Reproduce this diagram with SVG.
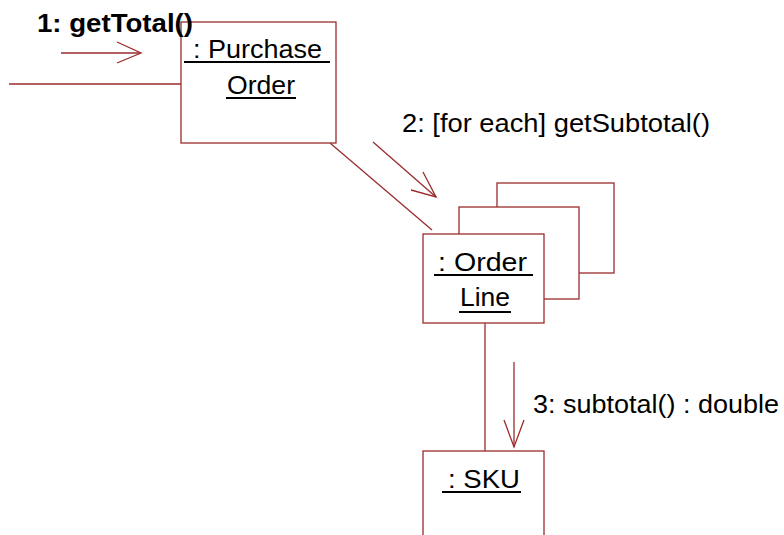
<svg xmlns="http://www.w3.org/2000/svg" width="784" height="535" viewBox="0 0 784 535">
<style>
.box{fill:#fff;stroke:#9b2b2b;stroke-width:1.3}
.ln{fill:none;stroke:#9b2b2b;stroke-width:1.3}
.ul{stroke:#000;stroke-width:2}
.t{font-family:"Liberation Sans",Arial,sans-serif;font-size:26px;fill:#000}
.b{font-weight:bold}
</style>
<rect width="784" height="535" fill="#fff"/>
<g id="connectors">
<line class="ln" x1="9" y1="84" x2="181" y2="84"/>
<line class="ln" x1="330" y1="143" x2="432" y2="230"/>
<line class="ln" x1="485" y1="323" x2="485" y2="451"/>
</g>
<g id="purchaseOrder">
<rect class="box" x="181" y="22" width="155" height="121"/>
<text class="t" x="193" y="58" textLength="129" lengthAdjust="spacingAndGlyphs">: Purchase</text>
<line class="ul" x1="184" y1="62" x2="330" y2="62"/>
<text class="t" x="227" y="94" textLength="68" lengthAdjust="spacingAndGlyphs">Order</text>
<line class="ul" x1="226" y1="98" x2="296" y2="98"/>
</g>
<g id="orderLine">
<rect class="box" x="497" y="183" width="117" height="90"/>
<rect class="box" x="459" y="207" width="120" height="92"/>
<rect class="box" x="423" y="234" width="121" height="89"/>
<text class="t" x="438" y="271" textLength="89" lengthAdjust="spacingAndGlyphs">: Order</text>
<line class="ul" x1="434" y1="275" x2="533" y2="275"/>
<text class="t" x="460" y="306" textLength="50" lengthAdjust="spacingAndGlyphs">Line</text>
<line class="ul" x1="459" y1="312" x2="511" y2="312"/>
</g>
<g id="sku">
<rect class="box" x="423" y="451" width="121" height="100"/>
<text class="t" x="448" y="488" textLength="72" lengthAdjust="spacingAndGlyphs">: SKU</text>
<line class="ul" x1="442" y1="492" x2="521" y2="492"/>
</g>
<g id="messages">
<g id="msg1">
<line class="ln" x1="61" y1="53" x2="140" y2="53"/>
<polyline class="ln" points="117,42 141,53 117,63"/>
<text class="t b" x="37" y="32" textLength="156" lengthAdjust="spacingAndGlyphs">1: getTotal()</text>
</g>
<g id="msg2">
<line class="ln" x1="373" y1="142" x2="436" y2="197"/>
<polyline class="ln" points="423,172 436,197 411,190"/>
<text class="t" x="402" y="132" textLength="308" lengthAdjust="spacingAndGlyphs">2: [for each] getSubtotal()</text>
</g>
<g id="msg3">
<line class="ln" x1="514" y1="362" x2="514" y2="447"/>
<polyline class="ln" points="504,420 514,447 524,420"/>
<text class="t" x="533" y="413" textLength="246" lengthAdjust="spacingAndGlyphs">3: subtotal() : double</text>
</g>
</g>
</svg>
